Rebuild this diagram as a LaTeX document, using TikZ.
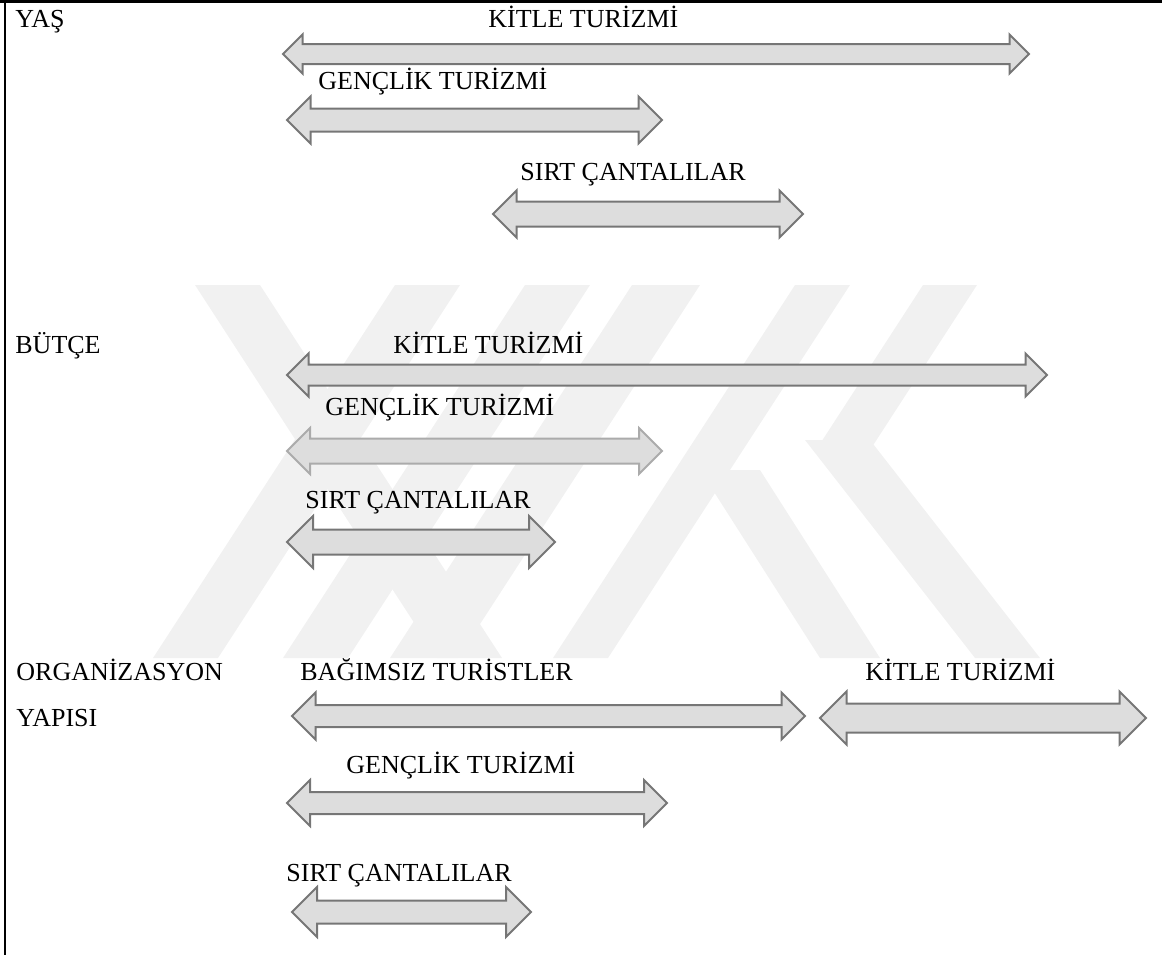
\documentclass[tikz,border=0pt]{standalone}
\usepackage{fontspec}
\setmainfont{Liberation Serif}
\usetikzlibrary{positioning, shapes.arrows}
\definecolor{arredge}{HTML}{767676}
\definecolor{arrfill}{HTML}{DDDDDD}
\definecolor{arrlight}{HTML}{ABABAB}
\definecolor{wmgray}{HTML}{F1F1F1}
\tikzset{dblarr/.style args={#1/#2/#3}{shape=double arrow, draw=arredge, fill=arrfill, line width=1pt, inner xsep=0pt, inner ysep=#2*0.25pt, outer sep=0pt, minimum height=#1*0.5pt, minimum width=#3*0.5pt, double arrow head extend=(#3-#2)*0.25pt}}
\tikzset{lbl/.style={anchor=base west, inner sep=0pt, font=\fontsize{13}{15}\selectfont}}
\tikzset{wmark/.style={fill=wmgray, draw=none}}
\tikzset{frame/.style={draw, line width=1.35pt}}

\begin{document}
\begin{tikzpicture}[x=0.5pt, y=-0.5pt]
    \useasboundingbox (0,0) rectangle (1162,955);
    % faint logo behind
    \fill[wmark] (195,285) -- (260,285) -- (502,658) -- (437,658) -- cycle;
    \foreach \x/\w in {395/65, 525/65, 632/68, 795/55}
        \fill[wmark] (\x,285) -- ++(\w,0) -- ++(-242,373) -- ++(-\w,0) -- cycle;
    \fill[wmark] (923,285) -- (977,285) -- (870,450) -- (816,450) -- cycle;
    \fill[wmark] (700,470) -- (760,470) -- (880,658) -- (820,658) -- cycle;
    \fill[wmark] (805,440) -- (870,440) -- (1040,658) -- (975,658) -- cycle;
    % frame
    \coordinate (tl) at (0,1.3);
    \coordinate (tr) at (1162,1.3);
    \coordinate (lt) at (5,0);
    \coordinate (lb) at (5,955);
    \draw[frame] (tl) -- (tr);
    \draw[frame] (lt) -- (lb);

    % YAS
    \node[lbl] (yas) at (15,27) {YAŞ};
    \node[dblarr=746/18/37] (yasKitle) at (656,54) {};
    \node[lbl] (yasKitleL) at (488,27) {KİTLE TURİZMİ};
    \node[dblarr=375/21/45] (yasGenc) at (474.5,120) {};
    \node[lbl] (yasGencL) at (318,89) {GENÇLİK TURİZMİ};
    \node[dblarr=310/23/45] (yasSirt) at (648,214) {};
    \node[lbl] (yasSirtL) at (520,180.5) {SIRT ÇANTALILAR};

    % BUTCE
    \node[lbl] (butce) at (15,353) {BÜTÇE};
    \node[dblarr=760/19/41] (butKitle) at (667,375) {};
    \node[lbl] (butKitleL) at (393,353) {KİTLE TURİZMİ};
    \node[dblarr=375/23/44, draw=arrlight] (butGenc) at (474.5,451) {};
    \node[lbl] (butGencL) at (325,415) {GENÇLİK TURİZMİ};
    \node[dblarr=268/23/50] (butSirt) at (421,542) {};
    \node[lbl] (butSirtL) at (305,508) {SIRT ÇANTALILAR};

    % ORGANIZASYON YAPISI
    \node[lbl] (org) at (16,680) {ORGANİZASYON};
    \node[lbl] (orgB) at (16,726) {YAPISI};
    \node[dblarr=513/20/45] (orgBag) at (548.5,716) {};
    \node[lbl] (orgBagL) at (300,680) {BAĞIMSIZ TURİSTLER};
    \node[dblarr=326/27/51] (orgKitle) at (983,718) {};
    \node[lbl] (orgKitleL) at (865,680) {KİTLE TURİZMİ};
    \node[dblarr=380/20/44] (orgGenc) at (477,803) {};
    \node[lbl] (orgGencL) at (346,773) {GENÇLİK TURİZMİ};
    \node[dblarr=239/21/48] (orgSirt) at (411.5,912) {};
    \node[lbl] (orgSirtL) at (286,881) {SIRT ÇANTALILAR};
\end{tikzpicture}
\end{document}
